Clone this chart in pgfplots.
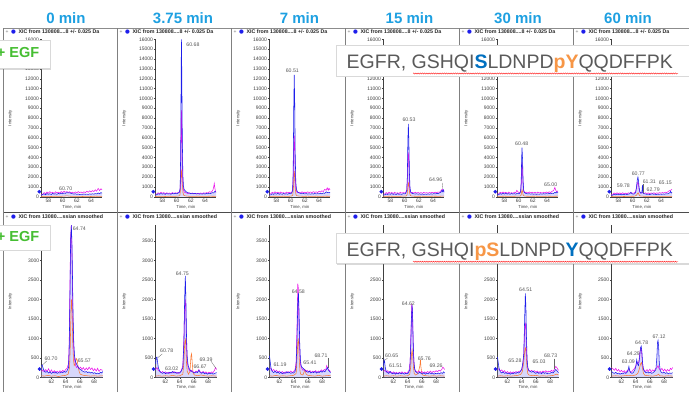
\documentclass[border=0pt]{standalone}
\usepackage{pgfplots}
\pgfplotsset{compat=1.18}
\usepackage{pgfplotstable}
\usepackage{fontspec}
\setmainfont{Liberation Sans}
\newfontfamily\dejavu{DejaVu Sans}
\usetikzlibrary{shadows,decorations.pathmorphing}
\definecolor{xblue}{RGB}{30,30,235}
\definecolor{xmag}{RGB}{235,20,235}
\definecolor{xorg}{RGB}{250,120,50}
\definecolor{ttl}{RGB}{30,160,225}
\definecolor{egf}{RGB}{70,190,50}
\definecolor{seqg}{RGB}{90,90,90}
\definecolor{seqb}{RGB}{0,112,192}
\definecolor{seqo}{RGB}{247,150,70}
\pgfplotsset{
 panel/.style={scale only axis, anchor=south west, width=61.1pt, axis lines*=left,
  axis line style={black!75, line width=0.4pt}, tick align=outside, major tick length=1.5pt,
  tick style={black!75, line width=0.3pt},
  ticklabel style={font=\fontsize{5}{5}\selectfont, text=black!75, inner sep=0.6pt},
  /pgf/number format/assume math mode=true, /pgf/number format/1000 sep={},
  scaled ticks=false, clip=false,
  xlabel={Time, min}, ylabel={Intensity},
  every axis x label/.style={at={(axis description cs:0.5,0)}, anchor=center, yshift=-10.3pt, font=\fontsize{4.3}{4.3}\selectfont, text=black!75},
  every axis y label/.style={at={(axis description cs:-0.51,0.5)}, rotate=90, anchor=center, font=\fontsize{4.3}{4.3}\selectfont, text=black!75}},
 toprow/.style={panel, height=157.3pt, xmin=57.0, xmax=65.6, ymin=0, ymax=16000, xtick={58,60,62,64}, ytick={0,1000,...,16000}},
 botrow/.style={panel, height=152.1pt, xmin=60.6, xmax=69.2, ymin=0, ymax=3900, xtick={62,64,66,68}, ytick={0,500,...,3500}},
 bfill/.style={draw=none, fill=xblue!35, fill opacity=0.5},
 bl/.style={color=xblue, line width=0.55pt},
 mg/.style={color=xmag, line width=0.55pt},
 og/.style={color=xorg, line width=0.55pt},
 mk/.style={only marks, mark=*, mark size=1.6pt, color=xblue},
}
\tikzset{pk/.style={font=\fontsize{5.2}{5.2}\selectfont, text=black!65, inner sep=0pt, anchor=center},
 ld/.style={black!60, line width=0.3pt}}

% ---------- top row blue ----------
\pgfplotstableread[row sep=\\]{x y\\ 57.0 150\\ 57.2 250\\ 57.4 280\\ 57.6 200\\ 57.8 320\\ 58.0 240\\ 58.2 300\\ 58.4 220\\ 58.6 330\\ 58.8 260\\ 59.0 300\\ 59.2 240\\ 59.4 340\\ 59.6 280\\ 59.8 360\\ 60.0 300\\ 60.2 380\\ 60.4 340\\ 60.6 420\\ 60.8 380\\ 61.0 400\\ 61.2 330\\ 61.4 300\\ 61.6 260\\ 61.8 300\\ 62.0 240\\ 62.2 280\\ 62.4 220\\ 62.6 260\\ 62.8 230\\ 63.0 280\\ 63.2 240\\ 63.4 270\\ 63.6 230\\ 63.8 290\\ 64.0 250\\ 64.2 300\\ 64.4 260\\ 64.6 320\\ 64.8 280\\ 65.0 380\\ 65.2 300\\ 65.4 420\\ 65.55 350\\}\tA
\pgfplotstableread[row sep=\\]{x y\\ 57.0 180\\ 57.2 200\\ 57.4 300\\ 57.6 250\\ 57.8 330\\ 58.0 260\\ 58.2 310\\ 58.4 240\\ 58.6 320\\ 58.8 270\\ 59.0 300\\ 59.2 250\\ 59.4 330\\ 59.6 280\\ 59.8 340\\ 60.0 300\\ 60.2 360\\ 60.4 450\\ 60.5 900\\ 60.58 5000\\ 60.64 13000\\ 60.68 16000\\ 60.73 12500\\ 60.8 6000\\ 60.88 2200\\ 60.96 1100\\ 61.05 750\\ 61.2 600\\ 61.4 480\\ 61.6 400\\ 61.8 360\\ 62.0 320\\ 62.2 350\\ 62.4 300\\ 62.6 330\\ 62.8 280\\ 63.0 320\\ 63.2 270\\ 63.4 300\\ 63.6 260\\ 63.8 310\\ 64.0 270\\ 64.2 330\\ 64.4 290\\ 64.6 350\\ 64.8 320\\ 65.0 420\\ 65.2 380\\ 65.4 550\\ 65.55 450\\}\tB
\pgfplotstableread[row sep=\\]{x y\\ 57.0 200\\ 57.2 180\\ 57.4 300\\ 57.6 240\\ 57.8 320\\ 58.0 260\\ 58.2 340\\ 58.4 250\\ 58.6 310\\ 58.8 240\\ 59.0 330\\ 59.2 260\\ 59.4 300\\ 59.6 250\\ 59.8 340\\ 60.0 300\\ 60.15 380\\ 60.28 600\\ 60.36 2500\\ 60.44 9000\\ 60.51 12400\\ 60.58 9500\\ 60.65 4200\\ 60.73 1500\\ 60.82 800\\ 60.92 550\\ 61.05 450\\ 61.2 380\\ 61.4 340\\ 61.6 300\\ 61.8 330\\ 62.0 280\\ 62.2 320\\ 62.4 270\\ 62.6 300\\ 62.8 260\\ 63.0 310\\ 63.2 270\\ 63.4 330\\ 63.6 280\\ 63.8 320\\ 64.0 290\\ 64.2 340\\ 64.4 300\\ 64.6 380\\ 64.8 340\\ 65.0 500\\ 65.2 420\\ 65.35 450\\ 65.55 400\\}\tC
\pgfplotstableread[row sep=\\]{x y\\ 57.0 200\\ 57.2 180\\ 57.4 280\\ 57.6 220\\ 57.8 300\\ 58.0 240\\ 58.2 320\\ 58.4 230\\ 58.6 290\\ 58.8 220\\ 59.0 310\\ 59.2 240\\ 59.4 280\\ 59.6 230\\ 59.8 320\\ 60.0 280\\ 60.15 350\\ 60.3 600\\ 60.38 2000\\ 60.46 5800\\ 60.53 7400\\ 60.6 5600\\ 60.68 2400\\ 60.76 900\\ 60.85 500\\ 60.95 380\\ 61.1 330\\ 61.3 300\\ 61.5 270\\ 61.7 300\\ 61.9 250\\ 62.1 290\\ 62.3 240\\ 62.5 280\\ 62.7 230\\ 62.9 270\\ 63.1 240\\ 63.3 290\\ 63.5 250\\ 63.7 300\\ 63.9 260\\ 64.1 320\\ 64.3 280\\ 64.5 340\\ 64.7 320\\ 64.9 380\\ 65.1 450\\ 65.25 650\\ 65.35 500\\ 65.45 700\\ 65.55 450\\}\tD
\pgfplotstableread[row sep=\\]{x y\\ 57.0 220\\ 57.2 200\\ 57.4 320\\ 57.6 250\\ 57.8 340\\ 58.0 270\\ 58.2 350\\ 58.4 260\\ 58.6 320\\ 58.8 250\\ 59.0 330\\ 59.2 270\\ 59.4 310\\ 59.6 260\\ 59.8 350\\ 60.0 300\\ 60.15 350\\ 60.28 500\\ 60.36 1500\\ 60.43 4000\\ 60.48 5000\\ 60.55 3900\\ 60.63 1600\\ 60.72 650\\ 60.82 420\\ 60.95 350\\ 61.1 320\\ 61.3 280\\ 61.5 310\\ 61.7 260\\ 61.9 300\\ 62.1 250\\ 62.3 290\\ 62.5 240\\ 62.7 280\\ 62.9 250\\ 63.1 300\\ 63.3 260\\ 63.5 310\\ 63.7 270\\ 63.9 320\\ 64.1 280\\ 64.3 330\\ 64.5 300\\ 64.7 360\\ 64.9 330\\ 65.1 450\\ 65.25 380\\ 65.4 500\\ 65.55 420\\}\tE
\pgfplotstableread[row sep=\\]{x y\\ 57.0 180\\ 57.2 150\\ 57.4 250\\ 57.6 180\\ 57.8 270\\ 58.0 200\\ 58.2 260\\ 58.4 190\\ 58.6 250\\ 58.8 200\\ 59.0 280\\ 59.2 220\\ 59.4 260\\ 59.6 300\\ 59.75 450\\ 59.9 300\\ 60.1 260\\ 60.3 300\\ 60.45 500\\ 60.55 1000\\ 60.65 1700\\ 60.75 2000\\ 60.83 1600\\ 60.92 900\\ 61.02 500\\ 61.15 350\\ 61.3 400\\ 61.38 1200\\ 61.45 400\\ 61.6 300\\ 61.8 280\\ 62.0 230\\ 62.2 270\\ 62.4 220\\ 62.6 260\\ 62.8 300\\ 62.95 240\\ 63.1 270\\ 63.3 220\\ 63.5 260\\ 63.7 230\\ 63.9 270\\ 64.1 240\\ 64.3 280\\ 64.5 250\\ 64.7 300\\ 64.9 280\\ 65.1 350\\ 65.25 420\\ 65.35 550\\ 65.45 380\\ 65.55 420\\}\tF
% ---------- bottom row blue ----------
\pgfplotstableread[row sep=\\]{x y\\ 60.6 300\\ 60.7 320\\ 60.8 250\\ 60.9 200\\ 61.0 160\\ 61.2 130\\ 61.4 150\\ 61.6 110\\ 61.8 140\\ 62.0 100\\ 62.2 130\\ 62.4 110\\ 62.6 140\\ 62.8 100\\ 63.0 120\\ 63.2 110\\ 63.4 140\\ 63.6 120\\ 63.8 150\\ 64.0 130\\ 64.2 170\\ 64.4 250\\ 64.5 700\\ 64.6 2000\\ 64.7 3500\\ 64.8 3900\\ 64.88 3500\\ 64.96 2600\\ 65.05 1500\\ 65.15 850\\ 65.25 550\\ 65.4 400\\ 65.55 330\\ 65.7 280\\ 65.9 220\\ 66.1 200\\ 66.3 170\\ 66.5 150\\ 66.7 130\\ 66.9 150\\ 67.1 120\\ 67.3 140\\ 67.5 110\\ 67.7 130\\ 67.9 100\\ 68.1 120\\ 68.3 90\\ 68.5 110\\ 68.7 90\\ 68.9 130\\ 69.1 110\\ 69.2 150\\}\tG
\pgfplotstableread[row sep=\\]{x y\\ 60.6 350\\ 60.7 500\\ 60.8 520\\ 60.9 380\\ 61.0 250\\ 61.2 150\\ 61.4 120\\ 61.6 100\\ 61.8 130\\ 62.0 90\\ 62.2 120\\ 62.4 100\\ 62.6 130\\ 62.8 110\\ 63.0 150\\ 63.2 110\\ 63.4 130\\ 63.6 100\\ 63.8 120\\ 64.0 110\\ 64.2 150\\ 64.45 250\\ 64.6 900\\ 64.7 2000\\ 64.8 2600\\ 64.88 2000\\ 64.97 1000\\ 65.07 500\\ 65.2 300\\ 65.35 220\\ 65.5 180\\ 65.7 150\\ 65.9 130\\ 66.1 110\\ 66.3 140\\ 66.5 120\\ 66.7 180\\ 66.9 120\\ 67.1 100\\ 67.3 130\\ 67.5 90\\ 67.7 110\\ 67.9 80\\ 68.1 100\\ 68.3 90\\ 68.5 110\\ 68.7 80\\ 68.9 100\\ 69.2 120\\}\tH
\pgfplotstableread[row sep=\\]{x y\\ 60.6 550\\ 60.7 400\\ 60.8 250\\ 60.9 180\\ 61.0 150\\ 61.2 120\\ 61.4 160\\ 61.6 110\\ 61.8 140\\ 62.0 100\\ 62.2 130\\ 62.4 90\\ 62.6 120\\ 62.8 100\\ 63.0 140\\ 63.2 110\\ 63.4 130\\ 63.6 100\\ 63.8 120\\ 64.0 110\\ 64.2 150\\ 64.35 300\\ 64.48 1000\\ 64.58 1900\\ 64.68 2150\\ 64.76 1700\\ 64.85 900\\ 64.95 450\\ 65.05 300\\ 65.2 250\\ 65.4 220\\ 65.6 180\\ 65.8 150\\ 66.0 130\\ 66.2 160\\ 66.4 110\\ 66.6 140\\ 66.8 120\\ 67.0 150\\ 67.2 110\\ 67.4 140\\ 67.6 120\\ 67.8 160\\ 68.0 130\\ 68.2 170\\ 68.4 140\\ 68.6 200\\ 68.75 250\\ 68.9 180\\ 69.05 150\\ 69.2 120\\}\tI
\pgfplotstableread[row sep=\\]{x y\\ 60.6 300\\ 60.68 450\\ 60.76 400\\ 60.85 250\\ 60.95 170\\ 61.1 130\\ 61.3 100\\ 61.5 150\\ 61.7 110\\ 61.9 90\\ 62.1 120\\ 62.3 80\\ 62.5 110\\ 62.7 90\\ 62.9 120\\ 63.1 90\\ 63.3 110\\ 63.5 80\\ 63.7 100\\ 63.9 90\\ 64.1 110\\ 64.3 200\\ 64.42 700\\ 64.53 1500\\ 64.62 1850\\ 64.7 1600\\ 64.78 900\\ 64.88 400\\ 64.98 220\\ 65.1 150\\ 65.3 120\\ 65.5 100\\ 65.7 130\\ 65.9 100\\ 66.1 90\\ 66.3 120\\ 66.5 80\\ 66.7 110\\ 66.9 90\\ 67.1 120\\ 67.3 90\\ 67.5 110\\ 67.7 80\\ 67.9 100\\ 68.1 90\\ 68.3 110\\ 68.5 90\\ 68.7 120\\ 68.9 100\\ 69.05 140\\ 69.2 110\\}\tJ
\pgfplotstableread[row sep=\\]{x y\\ 60.6 520\\ 60.7 380\\ 60.8 250\\ 60.9 180\\ 61.0 140\\ 61.2 110\\ 61.4 140\\ 61.6 100\\ 61.8 120\\ 62.0 90\\ 62.2 110\\ 62.4 80\\ 62.6 110\\ 62.8 90\\ 63.0 120\\ 63.2 100\\ 63.4 130\\ 63.6 110\\ 63.8 150\\ 64.0 200\\ 64.15 350\\ 64.3 600\\ 64.42 1500\\ 64.52 2150\\ 64.6 1800\\ 64.68 1000\\ 64.77 450\\ 64.87 250\\ 65.0 180\\ 65.2 150\\ 65.4 130\\ 65.6 160\\ 65.8 120\\ 66.0 100\\ 66.2 130\\ 66.4 100\\ 66.6 120\\ 66.8 90\\ 67.0 130\\ 67.2 100\\ 67.4 120\\ 67.6 90\\ 67.8 110\\ 68.0 100\\ 68.2 130\\ 68.4 110\\ 68.6 150\\ 68.8 200\\ 68.95 170\\ 69.1 140\\ 69.2 120\\}\tK
\pgfplotstableread[row sep=\\]{x y\\ 60.6 150\\ 60.8 120\\ 61.0 100\\ 61.2 130\\ 61.4 90\\ 61.6 110\\ 61.8 80\\ 62.0 100\\ 62.2 90\\ 62.4 120\\ 62.6 100\\ 62.8 130\\ 62.95 200\\ 63.05 280\\ 63.15 180\\ 63.3 120\\ 63.5 100\\ 63.7 130\\ 63.9 200\\ 64.05 300\\ 64.15 450\\ 64.25 350\\ 64.4 300\\ 64.55 500\\ 64.68 750\\ 64.78 800\\ 64.88 650\\ 64.98 350\\ 65.1 200\\ 65.25 150\\ 65.45 120\\ 65.65 140\\ 65.85 110\\ 66.05 130\\ 66.25 100\\ 66.45 120\\ 66.65 150\\ 66.85 200\\ 66.98 500\\ 67.08 900\\ 67.15 950\\ 67.23 800\\ 67.32 400\\ 67.45 180\\ 67.6 130\\ 67.8 110\\ 68.0 130\\ 68.2 100\\ 68.4 120\\ 68.6 90\\ 68.8 110\\ 69.0 100\\ 69.2 120\\}\tL

\begin{document}
\begin{tikzpicture}[x=1pt,y=1pt]
\useasboundingbox (0,0) rectangle (689,392);

% ================= TOP ROW =================
\begin{axis}[toprow, at={(41.3pt,195.3pt)}]
\addplot[bfill] table {\tA} \closedcycle;
\addplot[og] coordinates {(57.0,20)(57.8,40)(58.4,20)(59.0,50)(59.6,30)(60.2,60)(60.6,90)(61.0,50)(61.6,30)(62.2,40)(62.8,20)(63.4,40)(64.0,20)(64.6,50)(65.55,30)};
\addplot[mg] coordinates {(57.0,200)(57.2,250)(57.4,420)(57.6,300)(57.8,480)(58.0,350)(58.2,520)(58.4,380)(58.6,450)(58.8,330)(59.0,500)(59.2,400)(59.4,470)(59.6,360)(59.8,520)(60.0,420)(60.2,560)(60.4,450)(60.6,520)(60.8,430)(61.0,500)(61.2,380)(61.4,460)(61.6,350)(61.8,480)(62.0,400)(62.2,520)(62.4,420)(62.6,480)(62.8,380)(63.0,500)(63.2,420)(63.4,560)(63.6,450)(63.8,600)(64.0,480)(64.2,620)(64.4,520)(64.6,700)(64.8,560)(65.0,850)(65.2,620)(65.4,800)(65.55,700)};
\addplot[bl] table {\tA};
\addplot[mk] coordinates {(56.72,510)};
\node[pk] at (60.44,780) {60.70};
\end{axis}

\begin{axis}[toprow, at={(155.3pt,195.3pt)}]
\addplot[bfill] table {\tB} \closedcycle;
\addplot[og] coordinates {(57.0,20)(57.8,40)(58.4,20)(59.0,50)(59.6,30)(60.2,60)(60.45,100)(60.55,700)(60.62,2000)(60.68,2600)(60.74,2300)(60.82,1200)(60.9,400)(61.0,150)(61.2,80)(61.8,40)(62.4,30)(63.0,50)(63.6,30)(64.2,40)(64.8,50)(65.55,40)};
\addplot[mg] coordinates {(57.0,250)(57.2,280)(57.4,400)(57.6,320)(57.8,450)(58.0,340)(58.2,420)(58.4,300)(58.6,400)(58.8,330)(59.0,380)(59.2,300)(59.4,420)(59.6,340)(59.8,400)(60.0,360)(60.2,420)(60.4,500)(60.5,800)(60.58,3000)(60.64,7500)(60.68,8800)(60.73,7000)(60.8,3500)(60.88,1300)(60.96,700)(61.05,500)(61.2,420)(61.4,380)(61.6,320)(61.8,400)(62.0,330)(62.2,380)(62.4,300)(62.6,360)(62.8,290)(63.0,350)(63.2,300)(63.4,380)(63.6,320)(63.8,400)(64.0,340)(64.2,420)(64.4,380)(64.6,500)(64.8,450)(65.0,550)(65.12,700)(65.22,1000)(65.3,1350)(65.38,900)(65.48,500)(65.55,450)};
\addplot[bl] table {\tB};
\addplot[mk] coordinates {(56.72,510)};
\node[pk] at (62.3,15500) {60.68};
\end{axis}

\begin{axis}[toprow, at={(269.3pt,195.3pt)}]
\addplot[bfill] table {\tC} \closedcycle;
\addplot[og] coordinates {(57.0,30)(57.8,50)(58.4,30)(59.0,50)(59.6,30)(60.1,60)(60.3,150)(60.4,900)(60.47,2200)(60.52,2600)(60.58,2100)(60.65,900)(60.74,250)(60.85,100)(61.2,60)(61.8,40)(62.4,50)(63.0,30)(63.6,50)(64.2,30)(64.8,50)(65.55,40)};
\addplot[mg] coordinates {(57.0,260)(57.2,300)(57.4,450)(57.6,350)(57.8,500)(58.0,380)(58.2,460)(58.4,340)(58.6,480)(58.8,360)(59.0,420)(59.2,330)(59.4,470)(59.6,380)(59.8,450)(60.0,400)(60.15,450)(60.28,700)(60.36,1800)(60.44,4800)(60.51,6200)(60.58,4900)(60.65,2200)(60.73,900)(60.82,550)(60.92,450)(61.05,400)(61.2,450)(61.4,380)(61.6,500)(61.8,400)(62.0,470)(62.2,380)(62.4,500)(62.6,420)(62.8,480)(63.0,400)(63.2,520)(63.4,430)(63.6,500)(63.8,420)(64.0,560)(64.2,470)(64.4,600)(64.6,520)(64.8,750)(65.0,650)(65.15,900)(65.3,650)(65.4,850)(65.55,700)};
\addplot[bl] table {\tC};
\addplot[mk] coordinates {(56.72,510)};
\node[pk] at (60.24,12800) {60.51};
\end{axis}

\begin{axis}[toprow, at={(383.3pt,195.3pt)}]
\addplot[bfill] table {\tD} \closedcycle;
\addplot[og] coordinates {(57.0,30)(58.0,50)(58.8,30)(59.6,50)(60.2,60)(60.35,200)(60.43,800)(60.5,1300)(60.55,1400)(60.62,1000)(60.7,400)(60.8,120)(61.0,60)(61.6,40)(62.4,50)(63.2,30)(64.0,50)(64.8,40)(65.55,60)};
\addplot[mg] coordinates {(57.0,250)(57.2,280)(57.4,420)(57.6,320)(57.8,460)(58.0,350)(58.2,430)(58.4,320)(58.6,450)(58.8,340)(59.0,400)(59.2,320)(59.4,450)(59.6,360)(59.8,420)(60.0,380)(60.15,430)(60.3,650)(60.38,1500)(60.46,3600)(60.53,4500)(60.6,3500)(60.68,1500)(60.76,650)(60.85,450)(60.95,400)(61.1,430)(61.3,360)(61.5,450)(61.7,370)(61.9,430)(62.1,350)(62.3,420)(62.5,340)(62.7,440)(62.9,360)(63.1,420)(63.3,350)(63.5,430)(63.7,380)(63.9,450)(64.1,380)(64.3,470)(64.5,400)(64.7,480)(64.9,450)(65.1,600)(65.3,750)(65.45,550)(65.55,650)};
\addplot[bl] table {\tD};
\addplot[mk] coordinates {(56.72,510)};
\node[pk] at (60.62,7870) {60.53};
\node[pk] at (64.38,1700) {64.96};
\draw[ld] (65.3,1400) -- (65.38,800);
\end{axis}

\begin{axis}[toprow, at={(497.3pt,195.3pt)}]
\addplot[bfill] table {\tE} \closedcycle;
\addplot[og] coordinates {(57.0,30)(58.0,50)(58.8,30)(59.6,50)(60.2,60)(60.35,150)(60.43,500)(60.48,700)(60.55,550)(60.63,200)(60.75,80)(61.0,50)(61.6,40)(62.4,50)(63.2,30)(64.0,50)(64.8,40)(65.55,50)};
\addplot[mg] coordinates {(57.0,260)(57.2,300)(57.4,450)(57.6,350)(57.8,480)(58.0,370)(58.2,450)(58.4,330)(58.6,470)(58.8,350)(59.0,420)(59.2,340)(59.4,460)(59.6,400)(59.75,650)(59.9,500)(60.05,420)(60.2,450)(60.3,600)(60.37,1300)(60.43,2900)(60.48,3500)(60.55,2800)(60.63,1200)(60.72,550)(60.82,450)(60.95,420)(61.1,470)(61.3,380)(61.5,480)(61.7,390)(61.9,460)(62.1,370)(62.3,450)(62.5,360)(62.7,470)(62.9,380)(63.1,440)(63.3,360)(63.5,450)(63.7,380)(63.9,480)(64.1,400)(64.3,500)(64.5,420)(64.7,550)(64.9,600)(65.0,750)(65.1,950)(65.2,700)(65.35,500)(65.55,600)};
\addplot[bl] table {\tE};
\addplot[mk] coordinates {(56.72,510)};
\node[pk] at (60.44,5360) {60.48};
\node[pk] at (64.52,1260) {65.00};
\end{axis}

\begin{axis}[toprow, at={(611.3pt,195.3pt)}]
\addplot[bfill] table {\tF} \closedcycle;
\addplot[og] coordinates {(57.0,20)(58.0,40)(58.8,20)(59.6,40)(60.3,50)(60.55,150)(60.7,350)(60.78,400)(60.87,250)(61.0,80)(61.6,40)(62.4,30)(63.2,40)(64.0,30)(64.8,40)(65.55,30)};
\addplot[mg] coordinates {(57.0,220)(57.2,250)(57.4,380)(57.6,280)(57.8,400)(58.0,300)(58.2,380)(58.4,290)(58.6,400)(58.8,310)(59.0,370)(59.2,300)(59.4,400)(59.6,350)(59.8,420)(60.0,340)(60.2,380)(60.4,500)(60.55,900)(60.65,1300)(60.75,1500)(60.83,1200)(60.92,700)(61.02,450)(61.2,380)(61.4,420)(61.6,330)(61.8,400)(62.0,320)(62.2,390)(62.4,310)(62.6,380)(62.8,330)(63.0,400)(63.2,320)(63.4,390)(63.6,340)(63.8,420)(64.0,350)(64.2,430)(64.4,370)(64.6,460)(64.8,420)(65.0,520)(65.15,600)(65.35,650)(65.55,750)};
\addplot[bl] table {\tF};
\addplot[mk] coordinates {(56.72,510)};
\node[pk] at (58.7,1100) {59.78};
\node[pk] at (60.8,2350) {60.77};
\node[pk] at (62.35,1530) {61.31};
\draw[ld] (61.42,1250) -- (61.42,350);
\node[pk] at (62.9,750) {62.79};
\node[pk] at (64.6,1420) {65.15};
\end{axis}

% ================= BOTTOM ROW =================
\begin{axis}[botrow, at={(41.5pt,14.7pt)}]
\addplot[bfill] table {\tG} \closedcycle;
\addplot[og] coordinates {(60.6,40)(61.0,30)(61.5,50)(62.0,30)(62.5,40)(63.0,20)(63.5,40)(64.0,50)(64.35,80)(64.55,250)(64.65,800)(64.75,1700)(64.83,2000)(64.91,1700)(65.0,900)(65.1,450)(65.2,300)(65.35,350)(65.5,480)(65.62,450)(65.75,280)(65.9,150)(66.05,80)(66.5,50)(67.0,40)(67.5,30)(68.0,40)(68.5,30)(69.2,40)};
\addplot[mg] coordinates {(60.6,150)(60.8,180)(61.0,140)(61.2,200)(61.4,150)(61.6,220)(61.8,130)(62.0,190)(62.2,120)(62.4,170)(62.6,110)(62.8,160)(63.0,120)(63.2,170)(63.4,130)(63.6,180)(63.8,140)(64.0,200)(64.2,230)(64.4,350)(64.5,900)(64.6,2300)(64.7,3600)(64.8,3900)(64.88,3300)(64.96,2300)(65.05,1300)(65.15,700)(65.25,450)(65.4,300)(65.55,250)(65.7,280)(65.9,220)(66.1,260)(66.3,200)(66.5,250)(66.7,180)(66.9,240)(67.1,190)(67.3,260)(67.5,200)(67.7,240)(67.9,170)(68.1,220)(68.3,160)(68.5,230)(68.7,150)(68.9,200)(69.2,180)};
\addplot[bl] table {\tG};
\addplot[mk] coordinates {(60.32,210)};
\node[pk] at (61.94,470) {60.70};
\draw[ld] (61.35,420) -- (60.75,320);
\node[pk] at (65.92,3820) {64.74};
\node[pk] at (66.63,425) {65.57};
\end{axis}

\begin{axis}[botrow, at={(155.5pt,14.7pt)}]
\addplot[bfill] table {\tH} \closedcycle;
\addplot[og] coordinates {(60.6,30)(61.0,40)(61.5,30)(62.0,40)(62.5,30)(63.0,50)(63.5,30)(64.0,40)(64.45,80)(64.6,400)(64.7,850)(64.8,1000)(64.88,800)(64.97,350)(65.07,150)(65.25,80)(65.45,150)(65.6,550)(65.68,600)(65.76,400)(65.88,120)(66.05,60)(66.5,40)(67.0,60)(67.5,40)(68.0,30)(68.5,40)(69.2,30)};
\addplot[mg] coordinates {(60.6,200)(60.8,250)(61.0,180)(61.2,160)(61.4,120)(61.6,150)(61.8,110)(62.0,140)(62.2,100)(62.4,130)(62.6,100)(62.8,130)(63.0,110)(63.2,150)(63.4,110)(63.6,130)(63.8,100)(64.0,130)(64.2,160)(64.45,300)(64.6,1000)(64.7,1800)(64.8,2000)(64.88,1600)(64.97,800)(65.07,400)(65.2,250)(65.35,180)(65.5,150)(65.7,180)(65.9,140)(66.1,120)(66.3,160)(66.5,130)(66.7,200)(66.9,140)(67.1,120)(67.3,150)(67.5,110)(67.7,140)(67.9,100)(68.1,130)(68.3,110)(68.5,140)(68.7,120)(68.9,180)(69.05,250)(69.2,200)};
\addplot[bl] table {\tH};
\addplot[mk] coordinates {(60.32,210)};
\node[pk] at (62.18,675) {60.78};
\draw[ld] (61.55,600) -- (60.9,500);
\node[pk] at (64.37,2650) {64.75};
\node[pk] at (62.88,230) {63.02};
\node[pk] at (66.87,265) {66.67};
\node[pk] at (67.71,445) {69.39};
\draw[ld] (68.4,420) -- (69.1,230);
\end{axis}

\begin{axis}[botrow, at={(269.5pt,14.7pt)}]
\addplot[bfill] table {\tI} \closedcycle;
\addplot[og] coordinates {(60.6,40)(61.0,30)(61.5,50)(62.0,30)(62.5,40)(63.0,30)(63.5,40)(64.0,50)(64.35,100)(64.48,500)(64.58,900)(64.65,1000)(64.72,800)(64.8,400)(64.9,150)(65.0,80)(65.3,60)(65.5,150)(65.6,200)(65.75,80)(66.0,50)(66.5,40)(67.0,30)(67.5,50)(68.0,30)(68.5,40)(69.2,50)};
\addplot[mg] coordinates {(60.6,200)(60.8,230)(61.0,170)(61.2,200)(61.4,140)(61.6,180)(61.8,120)(62.0,160)(62.2,110)(62.4,150)(62.6,100)(62.8,140)(63.0,110)(63.2,150)(63.4,120)(63.6,160)(63.8,120)(64.0,150)(64.2,200)(64.35,400)(64.48,1400)(64.58,2400)(64.65,2300)(64.72,1600)(64.8,1000)(64.9,500)(65.0,300)(65.15,220)(65.3,180)(65.5,200)(65.7,150)(65.9,180)(66.1,130)(66.3,170)(66.5,120)(66.7,160)(66.9,130)(67.1,170)(67.3,120)(67.5,160)(67.7,140)(67.9,190)(68.1,150)(68.3,200)(68.5,180)(68.65,300)(68.75,250)(68.9,200)(69.05,170)(69.2,150)};
\addplot[bl] table {\tI};
\addplot[mk] coordinates {(60.32,210)};
\node[pk] at (62.08,330) {61.19};
\node[pk] at (64.66,2200) {64.58};
\node[pk] at (66.3,385) {65.41};
\node[pk] at (67.85,550) {68.71};
\draw[ld] (68.85,500) -- (68.85,230);
\end{axis}

\begin{axis}[botrow, at={(383.5pt,14.7pt)}]
\addplot[bfill] table {\tJ} \closedcycle;
\addplot[og] coordinates {(60.6,30)(61.0,40)(61.5,30)(62.0,40)(62.5,30)(63.0,40)(63.5,30)(64.0,40)(64.3,80)(64.45,300)(64.55,600)(64.63,700)(64.72,550)(64.82,250)(64.92,100)(65.1,60)(65.35,80)(65.6,200)(65.72,300)(65.8,450)(65.88,250)(66.0,80)(66.2,50)(66.6,40)(67.1,30)(67.6,40)(68.1,30)(68.6,40)(69.2,30)};
\addplot[mg] coordinates {(60.6,150)(60.8,180)(61.0,130)(61.2,170)(61.4,110)(61.6,150)(61.8,100)(62.0,140)(62.2,90)(62.4,130)(62.6,90)(62.8,130)(63.0,100)(63.2,140)(63.4,100)(63.6,130)(63.8,100)(64.0,130)(64.2,180)(64.35,400)(64.47,1200)(64.57,1850)(64.65,1800)(64.73,1200)(64.82,600)(64.92,300)(65.05,180)(65.2,150)(65.4,130)(65.6,160)(65.8,120)(66.0,150)(66.2,110)(66.4,140)(66.6,110)(66.8,150)(67.0,120)(67.2,160)(67.4,120)(67.6,150)(67.8,130)(68.0,170)(68.2,140)(68.4,180)(68.6,160)(68.8,200)(68.95,260)(69.1,230)(69.2,200)};
\addplot[bl] table {\tJ};
\addplot[mk] coordinates {(60.32,210)};
\node[pk] at (61.75,550) {60.65};
\draw[ld] (61.15,490) -- (60.72,430);
\node[pk] at (62.32,300) {61.51};
\node[pk] at (64.1,1880) {64.62};
\node[pk] at (66.35,470) {65.76};
\node[pk] at (68.0,300) {69.26};
\end{axis}

\begin{axis}[botrow, at={(497.5pt,14.7pt)}]
\addplot[bfill] table {\tK} \closedcycle;
\addplot[og] coordinates {(60.6,30)(61.0,40)(61.5,30)(62.0,40)(62.5,30)(63.0,40)(63.5,50)(63.9,80)(64.1,150)(64.3,400)(64.45,700)(64.55,750)(64.65,550)(64.75,250)(64.85,100)(65.0,60)(65.5,40)(66.0,50)(66.5,30)(67.0,40)(67.5,30)(68.0,40)(68.5,50)(68.9,80)(69.2,60)};
\addplot[mg] coordinates {(60.6,200)(60.8,220)(61.0,160)(61.2,190)(61.4,130)(61.6,170)(61.8,110)(62.0,150)(62.2,100)(62.4,140)(62.6,100)(62.8,140)(63.0,110)(63.2,150)(63.4,120)(63.6,160)(63.8,150)(64.0,200)(64.15,300)(64.3,600)(64.42,1200)(64.52,1400)(64.6,1200)(64.68,700)(64.77,350)(64.87,220)(65.0,170)(65.2,150)(65.4,180)(65.6,140)(65.8,170)(66.0,130)(66.2,160)(66.4,120)(66.6,150)(66.8,120)(67.0,160)(67.2,130)(67.4,170)(67.6,130)(67.8,160)(68.0,140)(68.2,180)(68.4,150)(68.6,200)(68.8,280)(68.95,250)(69.1,200)(69.2,180)};
\addplot[bl] table {\tK};
\addplot[mk] coordinates {(60.32,210)};
\node[pk] at (63.06,420) {65.28};
\node[pk] at (64.57,2250) {64.51};
\node[pk] at (66.45,400) {65.03};
\node[pk] at (68.09,545) {68.73};
\draw[ld] (68.6,480) -- (68.6,220);
\end{axis}

\begin{axis}[botrow, at={(611.5pt,14.7pt)}]
\addplot[bfill] table {\tL} \closedcycle;
\addplot[og] coordinates {(60.6,30)(61.2,40)(61.8,30)(62.4,40)(63.0,50)(63.6,40)(64.0,60)(64.3,100)(64.5,200)(64.7,350)(64.82,380)(64.95,250)(65.1,100)(65.3,50)(65.8,40)(66.4,30)(67.0,50)(67.2,80)(67.4,40)(68.0,30)(68.6,40)(69.2,30)};
\addplot[mg] coordinates {(60.6,250)(60.8,220)(61.0,180)(61.2,230)(61.4,160)(61.6,200)(61.8,140)(62.0,180)(62.2,130)(62.4,170)(62.6,120)(62.8,170)(63.0,200)(63.2,150)(63.4,130)(63.6,180)(63.8,220)(64.0,280)(64.15,400)(64.3,350)(64.45,400)(64.6,650)(64.72,750)(64.82,700)(64.92,450)(65.05,250)(65.2,180)(65.4,150)(65.6,200)(65.8,150)(66.0,210)(66.2,140)(66.4,190)(66.6,160)(66.8,220)(67.0,250)(67.15,300)(67.3,220)(67.5,180)(67.7,230)(67.9,160)(68.1,210)(68.3,150)(68.5,200)(68.7,160)(68.9,230)(69.05,200)(69.2,250)};
\addplot[bl] table {\tL};
\addplot[mk] coordinates {(60.32,210)};
\node[pk] at (62.97,400) {63.09};
\node[pk] at (63.67,615) {64.29};
\node[pk] at (64.85,880) {64.78};
\node[pk] at (67.29,1030) {67.12};
\end{axis}

% ================= frames and headers =================
\draw[black!45, line width=0.6pt] (3,364) -- (689,364);
\draw[black!70, line width=1pt] (3,180) -- (689,180);
\foreach \p in {3,117,231,345,459,573} {
  \draw[black!50, line width=0.7pt] (\p,0) -- (\p,364);
  \begin{scope}[shift={(\p,0)}]
    \node[anchor=center, inner sep=0, font=\fontsize{5}{5}\selectfont, text=black!55] at (4.2,360) {+};
    \node[anchor=center, inner sep=0, font=\dejavu\fontsize{5.5}{5.5}\selectfont, text=xblue] at (10.5,360) {●};
    \node[anchor=west, inner sep=0, font=\bfseries\fontsize{5.3}{5.3}\selectfont, text=black!85] at (15.3,360) {XIC from 130808....8 +/- 0.025 Da};
    \node[anchor=center, inner sep=0, font=\fontsize{5}{5}\selectfont, text=black!55] at (4.2,175) {+};
    \node[anchor=center, inner sep=0, font=\dejavu\fontsize{5.5}{5.5}\selectfont, text=xblue] at (10.5,175) {●};
    \node[anchor=west, inner sep=0, font=\bfseries\fontsize{5.3}{5.3}\selectfont, text=black!85] at (15.3,175) {XIC from 13080....ssian smoothed};
  \end{scope}
}

% ================= titles =================
\foreach \xx/\tt in {66/0 min,183/3.75 min,299.5/7 min,409.5/15 min,518/30 min,628/60 min}
  \node[font=\bfseries\fontsize{15}{15}\selectfont, text=ttl, inner sep=0] at (\xx,374) {\tt};

% ================= overlays =================
\path[fill=white, draw=black!15, line width=0.4pt, drop shadow={shadow xshift=1.3pt, shadow yshift=-1.3pt, opacity=0.3}] (-5,323.7) rectangle (50,351.3);
\node[anchor=base east, inner sep=0, font=\bfseries\fontsize{14.5}{14.5}\selectfont, text=egf] at (39.5,334.7) {+ EGF};
\path[fill=white, draw=black!15, line width=0.4pt, drop shadow={shadow xshift=1.3pt, shadow yshift=-1.3pt, opacity=0.3}] (-5,142) rectangle (50,167);
\node[anchor=base east, inner sep=0, font=\bfseries\fontsize{14.5}{14.5}\selectfont, text=egf] at (39.5,151) {+ EGF};

\path[fill=white, draw=black!15, line width=0.4pt, drop shadow={shadow xshift=1.3pt, shadow yshift=-1.3pt, opacity=0.3}] (336,316) rectangle (700,347);
\node[anchor=base west, inner sep=0, font=\fontsize{19.5}{20}\selectfont, text=seqg] at (346.5,323.7) {EGFR, GSHQI\textbf{\textcolor{seqb}{S}}LDNPD\textbf{\textcolor{seqo}{pY}}QQDFFPK};
\draw[red, line width=0.35pt, decorate, decoration={snake, amplitude=0.6pt, segment length=2.2pt}] (413,318.5) -- (678,318.5);

\path[fill=white, draw=black!15, line width=0.4pt, drop shadow={shadow xshift=1.3pt, shadow yshift=-1.3pt, opacity=0.3}] (336,128.7) rectangle (700,158.7);
\node[anchor=base west, inner sep=0, font=\fontsize{19.5}{20}\selectfont, text=seqg] at (346.5,135.3) {EGFR, GSHQI\textbf{\textcolor{seqo}{pS}}LDNPD\textbf{\textcolor{seqb}{Y}}QQDFFPK};
\draw[red, line width=0.35pt, decorate, decoration={snake, amplitude=0.6pt, segment length=2.2pt}] (413,130.3) -- (678,130.3);
\end{tikzpicture}
\end{document}
